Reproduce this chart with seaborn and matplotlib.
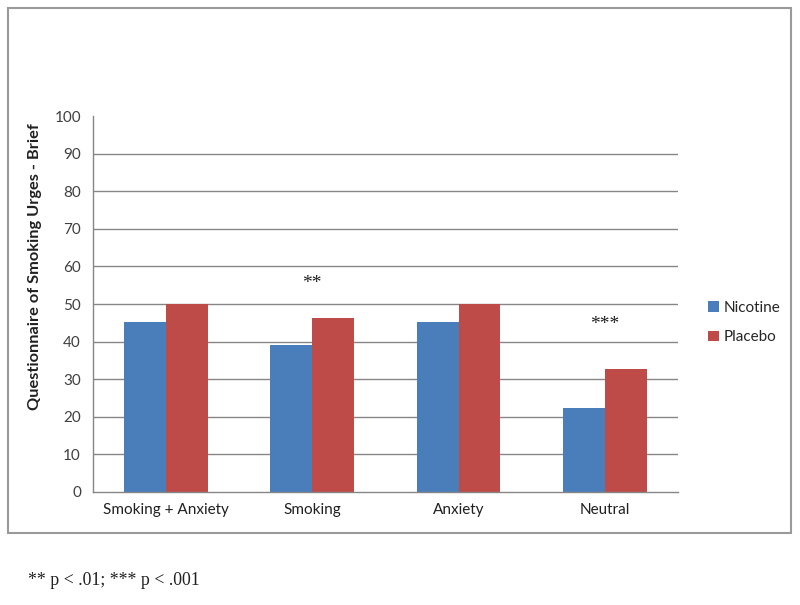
import numpy as np
import pandas as pd
import matplotlib
matplotlib.use("Agg")
import matplotlib.pyplot as plt
import seaborn as sns
from matplotlib.patches import Rectangle, Patch

categories = ["Smoking + Anxiety", "Smoking", "Anxiety", "Neutral"]
nicotine = [45.1, 39.0, 45.1, 22.4]
placebo = [50.0, 46.3, 50.0, 32.6]
groups = ["Nicotine", "Placebo"]
colors = ["#4A7EBB", "#BE4B48"]
stars = {"Smoking": ("**", 55.5), "Neutral": ("***", 44.5)}
footnote = "** p < .01; *** p < .001"

df = pd.DataFrame({
    "category": categories * 2,
    "group": [groups[0]] * 4 + [groups[1]] * 4,
    "score": nicotine + placebo,
})

sns.set_style("white")
plt.rcParams["font.family"] = ["Lato", "DejaVu Sans"]

fig = plt.figure(figsize=(8, 6.05), dpi=100)
ax = fig.add_axes([0.116, 0.187, 0.7315, 0.621])

sns.barplot(data=df, x="category", y="score", hue="group", order=categories,
            hue_order=groups, palette=colors, width=0.571, saturation=1,
            edgecolor="none", legend=False, ax=ax)

ax.set_ylim(0, 100)
ax.set_xlim(-0.5, 3.5)
ax.set_yticks(range(0, 101, 10))
ax.tick_params(axis="y", labelsize=11, colors="#404040", length=5, color="#868686")
ax.set_xticks(range(len(categories)))
ax.set_xticklabels(categories)
ax.set_xticks(np.arange(-0.5, 4, 1), minor=True)
ax.tick_params(axis="x", which="major", length=0, labelsize=11, labelcolor="#202020", pad=8)
ax.tick_params(axis="x", which="minor", length=5, color="#868686")
for y in range(10, 100, 10):
    ax.axhline(y, color="#868686", lw=1, zorder=0)
ax.set_axisbelow(True)

for side in ["top", "right"]:
    ax.spines[side].set_visible(False)
for side in ["left", "bottom"]:
    ax.spines[side].set_color("#868686")
    ax.spines[side].set_linewidth(1)

ax.set_xlabel("")
ax.set_ylabel("Questionnaire of Smoking Urges - Brief", fontsize=11.8,
              fontweight="bold", color="#202020")
ax.yaxis.set_label_coords(-0.087, 0.6)

for cat, (txt, yv) in stars.items():
    ax.text(categories.index(cat), yv, txt, ha="center", va="center",
            fontsize=14, family="Liberation Serif", color="#202020")

handles = [Patch(facecolor=c, edgecolor="none") for c in colors]
fig.legend(handles, groups, loc="upper left", bbox_to_anchor=(0.868, 0.525),
           frameon=False, fontsize=11, handlelength=0.7, handleheight=0.7,
           handletextpad=0.3, labelspacing=1.0)

fig.patches.append(Rectangle((0.01, 0.119), 0.979, 0.868, transform=fig.transFigure,
                             fill=False, edgecolor="#9a9a9a", lw=1.5))

fig.text(0.035, 0.033, footnote, fontsize=12.8, family="Liberation Serif", color="#202020")

fig.savefig("out.png", dpi=100)
